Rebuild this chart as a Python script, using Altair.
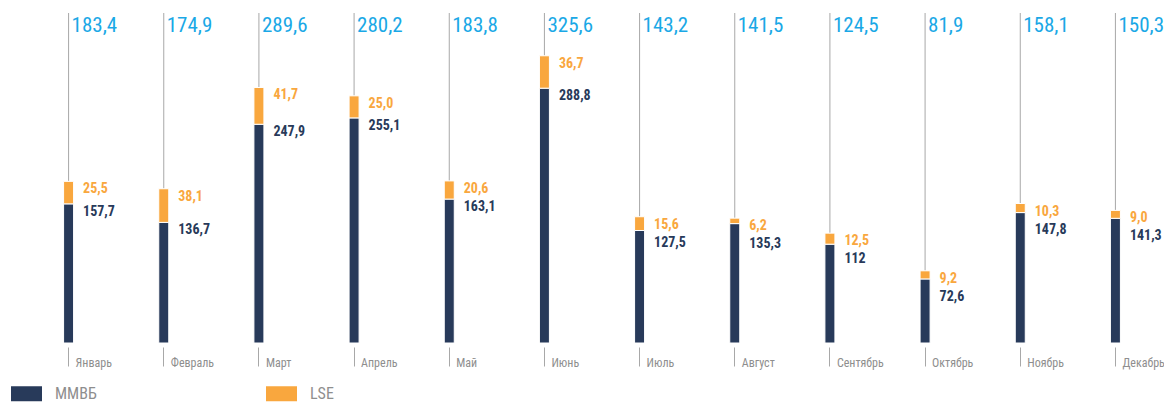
import altair as alt
import pandas as pd

months = ["Январь", "Февраль", "Март", "Апрель", "Май", "Июнь",
          "Июль", "Август", "Сентябрь", "Октябрь", "Ноябрь", "Декабрь"]
series = ["ММВБ", "LSE"]
mmvb = [157.7, 136.7, 247.9, 255.1, 163.1, 288.8, 127.5, 135.3, 112, 72.6, 147.8, 141.3]
lse = [25.5, 38.1, 41.7, 25.0, 20.6, 36.7, 15.6, 6.2, 12.5, 9.2, 10.3, 9.0]
totals = [183.4, 174.9, 289.6, 280.2, 183.8, 325.6, 143.2, 141.5, 124.5, 81.9, 158.1, 150.3]

NAVY = "#283a5a"
ORANGE = "#f9a73e"
BLUE = "#1aa8e6"
GREY_TXT = "#8e8e8e"
GREY_LINE = "#a8a8a8"
FONT = "Liberation Sans Narrow, 'Roboto Condensed', 'DejaVu Sans Condensed', Roboto, sans-serif"


def fmt(v):
    return str(v).replace(".", ",")


df = pd.DataFrame({
    "month": months,
    series[0]: mmvb,
    series[1]: lse,
    "mmvb_label": [fmt(v) for v in mmvb],
    "lse_label": [fmt(v) for v in lse],
    "total_label": [fmt(v) for v in totals],
})
df["top"] = df[series[0]] + df[series[1]]

x_enc = alt.X("month:N", sort=months,
              scale=alt.Scale(paddingInner=0, paddingOuter=0),
              axis=alt.Axis(title=None, domain=False, grid=False, ticks=True,
                            tickColor=GREY_LINE, tickSize=19, tickWidth=1,
                            tickOpacity=1, tickBand="center", zindex=1, offset=4,
                            labelAngle=0, labelAlign="left", labelBaseline="alphabetic",
                            labelOffset=7, labelPadding=0, labelFont=FONT,
                            labelFontSize=12, labelColor=GREY_TXT,
                            labelOverlap=False))
y_scale = alt.Scale(domain=[0, 374], nice=False, zero=True)

base = alt.Chart(df)

rules = base.mark_rule(color=GREY_LINE, strokeWidth=1).encode(
    x=x_enc,
    y=alt.Y("top:Q", scale=y_scale, axis=None),
    y2=alt.value(0),
)

bars = base.transform_fold(series, as_=["key", "value"]).transform_calculate(
    ord="indexof(['ММВБ','LSE'], datum.key)"
).mark_bar(size=10, stroke="white", strokeWidth=1).encode(
    x=x_enc,
    y=alt.Y("value:Q", stack="zero", scale=y_scale, axis=None),
    color=alt.Color("key:N", scale=alt.Scale(domain=series, range=[NAVY, ORANGE]),
                    legend=alt.Legend(orient="none", legendX=-10, legendY=365,
                                      direction="horizontal", title=None,
                                      symbolType="M-1,-0.4839H1V0.4839H-1Z",
                                      symbolSize=961, symbolStrokeWidth=0,
                                      symbolOpacity=1, labelOffset=13,
                                      labelFontSize=16, labelColor=GREY_TXT,
                                      labelFont=FONT, columnPadding=169,
                                      padding=0)),
    order=alt.Order("ord:Q"),
)

total_text = base.mark_text(align="left", baseline="alphabetic", dx=3,
                            font=FONT, fontSize=21, color=BLUE).encode(
    x=x_enc,
    y=alt.value(19),
    text="total_label:N",
)

lse_text = base.mark_text(align="left", baseline="alphabetic", dx=14.5, dy=12,
                          font=FONT, fontSize=14, fontWeight="bold",
                          color=ORANGE).encode(
    x=x_enc,
    y=alt.Y("top:Q", scale=y_scale, axis=None),
    text="lse_label:N",
)

mmvb_text = base.transform_calculate(
    ly="min(datum['ММВБ'], datum.top - 20.4)"
).mark_text(align="left", baseline="alphabetic", dx=14.5, dy=12,
            font=FONT, fontSize=14, fontWeight="bold", color=NAVY).encode(
    x=x_enc,
    y=alt.Y("ly:Q", scale=y_scale, axis=None),
    text="mmvb_label:N",
)

chart = alt.layer(rules, bars, total_text, lse_text, mmvb_text).properties(
    width=1142, height=330, autosize="none",
    padding={"left": 13, "top": 5, "right": 1, "bottom": 60},
).configure_view(stroke=None)

chart.save("out.html", embed_options={"renderer": "svg", "actions": False})
